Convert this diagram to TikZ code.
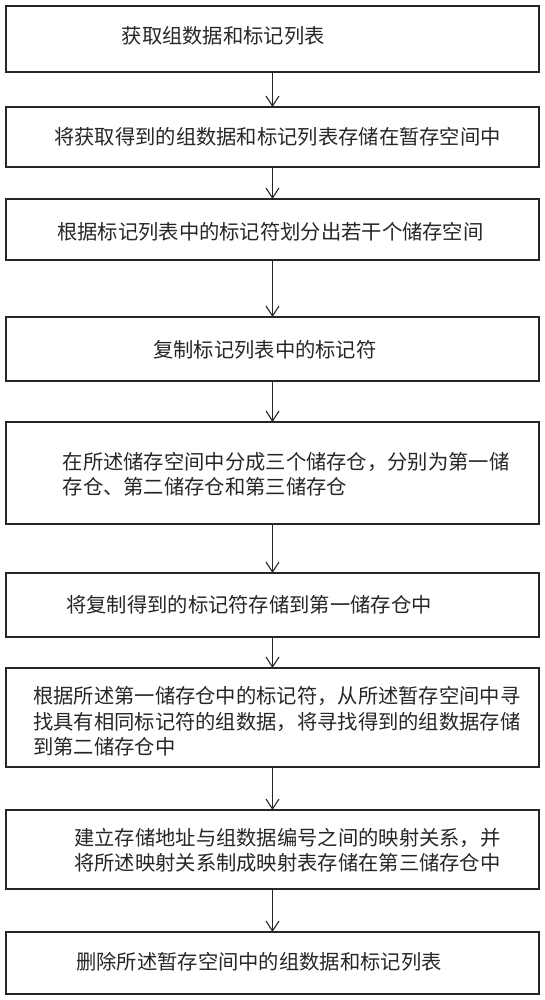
\documentclass[tikz,border=0pt]{standalone}
\usepackage{fontspec}
\newfontfamily\cjk{Noto Sans CJK SC}
\usetikzlibrary{arrows.meta}
\begin{document}
\begin{tikzpicture}[x=1pt,y=-1pt,
  box/.style={draw=black!85, line width=1.2pt, rectangle, minimum width=533pt, inner sep=0pt, outer sep=0pt},
  txt/.style={anchor=west, inner sep=0pt, align=left, text=black!85, font=\cjk\fontsize{20.3}{25.5}\selectfont},
  arr/.style={draw=black!85, line width=1.1pt, -{Straight Barb[length=10pt,width=13pt,line width=1.1pt]}}]
\useasboundingbox (0,0) rectangle (545,1000);
\node[box, minimum height=66pt] (b1) at (272.5,39) {};
\node[box, minimum height=60pt] (b2) at (272.5,137) {};
\node[box, minimum height=61pt] (b3) at (272.5,229.5) {};
\node[box, minimum height=64pt] (b4) at (272.5,349) {};
\node[box, minimum height=102pt] (b5) at (272.5,473) {};
\node[box, minimum height=64pt] (b6) at (272.5,605) {};
\node[box, minimum height=99pt] (b7) at (272.5,717.5) {};
\node[box, minimum height=79pt] (b8) at (272.5,849.5) {};
\node[box, minimum height=62pt] (b9) at (272.5,963) {};
\node[txt] (t1) at (121.5,36) {获取组数据和标记列表};
\node[txt] (t2) at (54,137) {将获取得到的组数据和标记列表存储在暂存空间中};
\node[txt] (t3) at (57,232) {根据标记列表中的标记符划分出若干个储存空间};
\node[txt] (t4) at (153,350) {复制标记列表中的标记符};
\node[txt] (t5) at (62.5,474) {在所述储存空间中分成三个储存仓，分别为第一储\\存仓、第二储存仓和第三储存仓};
\node[txt] (t6) at (66,605) {将复制得到的标记符存储到第一储存仓中};
\node[txt] (t7) at (33,721.5) {根据所述第一储存仓中的标记符，从所述暂存空间中寻\\找具有相同标记符的组数据，将寻找得到的组数据存储\\到第二储存仓中};
\node[txt] (t8) at (74,850.5) {建立存储地址与组数据编号之间的映射关系，并\\将所述映射关系制成映射表存储在第三储存仓中};
\node[txt] (t9) at (76,962) {删除所述暂存空间中的组数据和标记列表};
\draw[arr] (b1.south) -- (b2.north);
\draw[arr] (b2.south) -- (b3.north);
\draw[arr] (b3.south) -- (b4.north);
\draw[arr] (b4.south) -- (b5.north);
\draw[arr] (b5.south) -- (b6.north);
\draw[arr] (b6.south) -- (b7.north);
\draw[arr] (b7.south) -- (b8.north);
\draw[arr] (b8.south) -- (b9.north);
\end{tikzpicture}
\end{document}
